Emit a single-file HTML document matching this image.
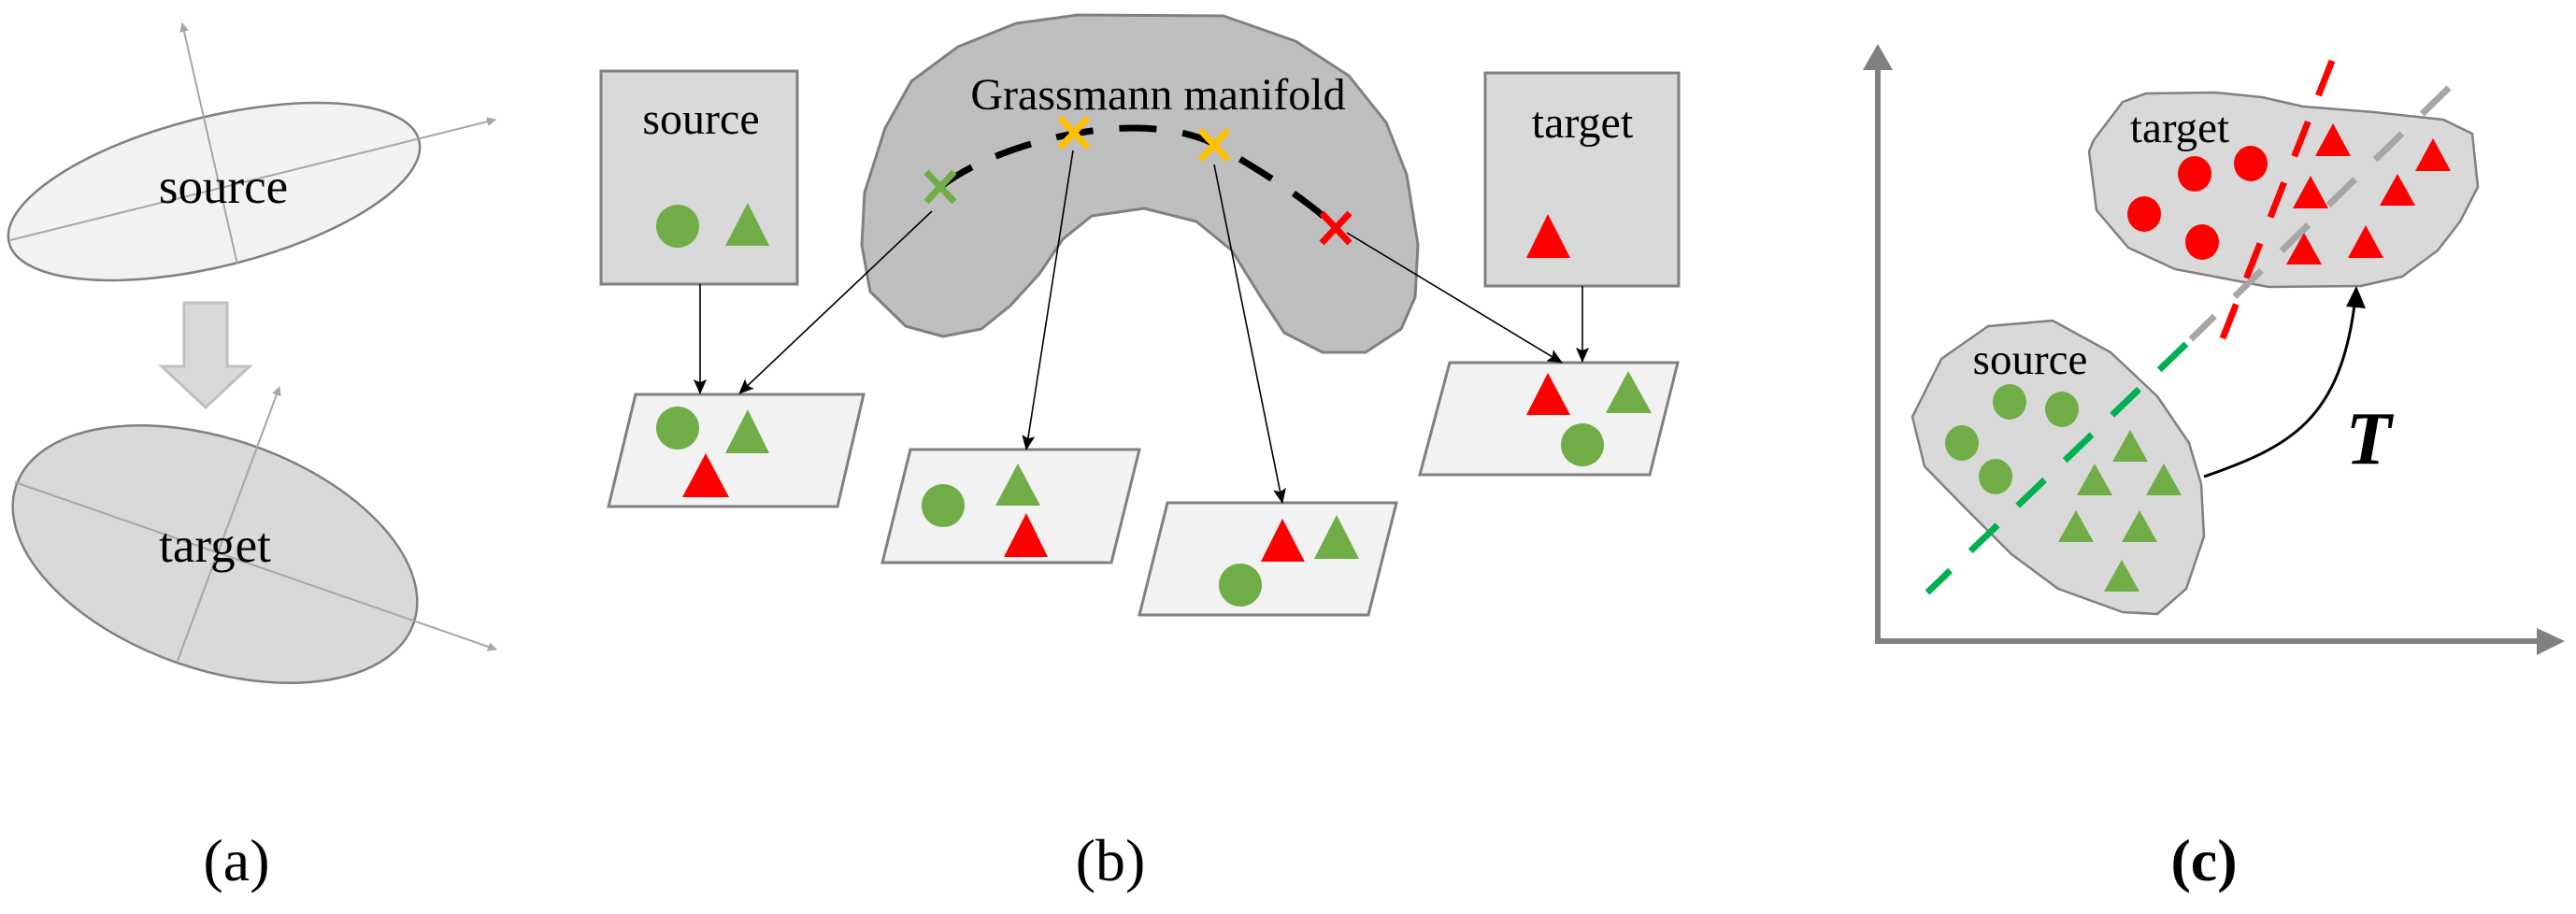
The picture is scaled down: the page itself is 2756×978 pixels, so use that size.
<!DOCTYPE html>
<html><head><meta charset="utf-8"><style>
html,body{margin:0;padding:0;background:#fff}
svg{display:block}
text{font-family:"Liberation Serif","DejaVu Serif","Times New Roman",serif}
</style></head><body>
<svg width="2756" height="978" viewBox="0 0 2756 978" xmlns="http://www.w3.org/2000/svg" font-family="Liberation Serif, DejaVu Serif, serif">
<defs>
<marker id="ag" markerWidth="10" markerHeight="10" refX="9" refY="5" orient="auto" markerUnits="userSpaceOnUse" viewBox="0 0 10 10"><path d="M0,0 L10,5 L0,10z" fill="#a6a6a6"/></marker>
<marker id="ab" markerWidth="16" markerHeight="14" refX="15" refY="7" orient="auto" markerUnits="userSpaceOnUse"><path d="M0,0 L16,7 L0,14 L3,7z" fill="#000"/></marker>
</defs>

<!-- (a) -->
<ellipse cx="229" cy="205" rx="226" ry="80" transform="rotate(-14 229 205)" fill="#f2f2f2" stroke="#808080" stroke-width="2.5"/>
<line x1="11" y1="257" x2="530" y2="128" stroke="#a6a6a6" stroke-width="2" marker-end="url(#ag)"/>
<line x1="254" y1="283" x2="195" y2="25" stroke="#a6a6a6" stroke-width="2" marker-end="url(#ag)"/>
<text x="239" y="217" font-size="53" text-anchor="middle" font-family="Liberation Serif, DejaVu Serif, serif">source</text>
<path d="M197,324 H243 V392 H267 L220,436 L173,392 H197Z" fill="#d9d9d9" stroke="#bfbfbf" stroke-width="3"/>
<ellipse cx="230" cy="593" rx="225" ry="123" transform="rotate(19.2 230 593)" fill="#d9d9d9" stroke="#808080" stroke-width="2.5"/>
<line x1="16" y1="516" x2="531" y2="695" stroke="#a6a6a6" stroke-width="2" marker-end="url(#ag)"/>
<line x1="190" y1="707" x2="299" y2="414" stroke="#a6a6a6" stroke-width="2" marker-end="url(#ag)"/>
<text x="230" y="601" font-size="53" text-anchor="middle" font-family="Liberation Serif, DejaVu Serif, serif">target</text>
<text x="253" y="942" font-size="64" text-anchor="middle" font-family="Liberation Serif, DejaVu Serif, serif">(a)</text>

<!-- (b) -->
<path d="M1153,16 L1309,17 L1386,44 L1443,81 L1483,131 L1505,187 L1517,262 L1514,318 L1499,352 L1461,377 L1415,377 L1374,356 L1349,318 L1318,268 L1280,237 L1224,223 L1168,231 L1137,256 L1112,293 L1081,327 L1050,352 L1009,360 L969,349 L931,312 L922,262 L925,206 L947,137 L975,87 L1025,50 L1087,25Z" fill="#bfbfbf" stroke="#808080" stroke-width="3" stroke-linejoin="round"/>
<text x="1239" y="117" font-size="48" text-anchor="middle" font-family="Liberation Serif, DejaVu Serif, serif">Grassmann manifold</text>
<path d="M1006,200 C1070,150 1230,110 1310,160 C1360,190 1400,215 1432,246" fill="none" stroke="#000" stroke-width="7" stroke-dasharray="40 28"/>
<g stroke-width="7">
<path d="M991,184 L1021,216 M1021,184 L991,216" stroke="#70ad47"/>
<path d="M1134,126 L1164,158 M1164,126 L1134,158" stroke="#ffc000"/>
<path d="M1284,139 L1314,171 M1314,139 L1284,171" stroke="#ffc000"/>
<path d="M1414,228 L1444,260 M1444,228 L1414,260" stroke="#ff0000"/>
</g>
<!-- boxes -->
<rect x="643" y="76" width="210" height="228" fill="#d9d9d9" stroke="#808080" stroke-width="3"/>
<text x="750" y="143" font-size="48" text-anchor="middle" font-family="Liberation Serif, DejaVu Serif, serif">source</text>
<circle cx="725" cy="242" r="23" fill="#70ad47"/>
<path d="M800,217 L823,263 L776,263Z" fill="#70ad47"/>
<rect x="1589" y="78" width="207" height="228" fill="#d9d9d9" stroke="#808080" stroke-width="3"/>
<text x="1693" y="147" font-size="48" text-anchor="middle" font-family="Liberation Serif, DejaVu Serif, serif">target</text>
<path d="M1656,229 L1680,276 L1633,276Z" fill="#f00"/>
<!-- parallelograms -->
<path d="M680,422 L924,422 L896,542 L651,542Z" fill="#f2f2f2" stroke="#808080" stroke-width="3"/>
<circle cx="725" cy="458" r="23" fill="#70ad47"/>
<path d="M800,438 L823,485 L776,485Z" fill="#70ad47"/>
<path d="M755,485 L780,532 L730,532Z" fill="#f00"/>
<path d="M974,481 L1219,481 L1189,602 L944,602Z" fill="#f2f2f2" stroke="#808080" stroke-width="3"/>
<circle cx="1009" cy="541" r="23" fill="#70ad47"/>
<path d="M1089,496 L1113,541 L1065,541Z" fill="#70ad47"/>
<path d="M1098,549 L1121,596 L1074,596Z" fill="#f00"/>
<path d="M1249,538 L1494,538 L1464,658 L1219,658Z" fill="#f2f2f2" stroke="#808080" stroke-width="3"/>
<path d="M1372,555 L1396,601 L1349,601Z" fill="#f00"/>
<path d="M1430,551 L1454,598 L1406,598Z" fill="#70ad47"/>
<circle cx="1327" cy="626" r="23" fill="#70ad47"/>
<path d="M1551,388 L1795,388 L1765,508 L1519,508Z" fill="#f2f2f2" stroke="#808080" stroke-width="3"/>
<path d="M1656,399 L1680,444 L1633,444Z" fill="#f00"/>
<path d="M1742,397 L1767,442 L1718,442Z" fill="#70ad47"/>
<circle cx="1693" cy="476" r="23" fill="#70ad47"/>
<!-- arrows -->
<g stroke="#000" stroke-width="1.6" fill="none" marker-end="url(#ab)">
<line x1="749" y1="304" x2="749" y2="421"/>
<line x1="997" y1="226" x2="791" y2="421"/>
<line x1="1148" y1="161" x2="1098" y2="481"/>
<line x1="1299" y1="176" x2="1372" y2="538"/>
<line x1="1441" y1="249" x2="1671" y2="388"/>
<line x1="1693" y1="306" x2="1693" y2="387"/>
</g>
<text x="1188" y="942" font-size="64" text-anchor="middle" font-family="Liberation Serif, DejaVu Serif, serif">(b)</text>

<!-- (c) -->
<line x1="2009" y1="689" x2="2009" y2="72" stroke="#808080" stroke-width="6"/>
<path d="M2009,47 L2025,75 L1993,75Z" fill="#808080"/>
<line x1="2006" y1="686" x2="2716" y2="686" stroke="#808080" stroke-width="6"/>
<path d="M2744,686 L2714,672 L2714,701Z" fill="#808080"/>
<path d="M2240,150 L2271,109 L2296,100 L2370,99 L2420,104 L2464,114 L2540,120 L2614,128 L2645,143 L2651,200 L2632,237 L2608,268 L2570,296 L2526,306 L2427,307 L2327,288 L2277,265 L2243,225 L2235,162Z" fill="#d9d9d9" stroke="#808080" stroke-width="2.5" stroke-linejoin="round"/>
<text x="2332" y="152" font-size="47" text-anchor="middle" font-family="Liberation Serif, DejaVu Serif, serif">target</text>
<g fill="#f00">
<ellipse cx="2348" cy="186" rx="18" ry="19"/><ellipse cx="2408" cy="175" rx="18" ry="19"/>
<ellipse cx="2294" cy="229" rx="18" ry="19"/><ellipse cx="2356" cy="259" rx="18" ry="19"/>
<path d="M2496,132 L2515,167 L2477,167Z"/><path d="M2603,148 L2622,183 L2584,183Z"/>
<path d="M2472,188 L2491,223 L2453,223Z"/><path d="M2565,186 L2584,220 L2546,220Z"/>
<path d="M2465,249 L2484,283 L2446,283Z"/><path d="M2531,241 L2550,276 L2512,276Z"/>
</g>
<path d="M2046,446 L2077,384 L2127,349 L2196,343 L2258,377 L2308,424 L2342,474 L2355,518 L2358,574 L2339,630 L2308,657 L2271,655 L2202,630 L2152,593 L2102,543 L2059,499Z" fill="#d9d9d9" stroke="#808080" stroke-width="2.5" stroke-linejoin="round"/>
<text x="2172" y="400" font-size="47" text-anchor="middle" font-family="Liberation Serif, DejaVu Serif, serif">source</text>
<g fill="#70ad47">
<ellipse cx="2150" cy="430" rx="18" ry="19"/><ellipse cx="2206" cy="438" rx="18" ry="19"/>
<ellipse cx="2099" cy="474" rx="18" ry="19"/><ellipse cx="2135" cy="510" rx="18" ry="19"/>
<path d="M2279,460 L2298,494 L2260,494Z"/><path d="M2241,496 L2260,530 L2222,530Z"/>
<path d="M2315,496 L2334,530 L2296,530Z"/><path d="M2221,546 L2240,580 L2202,580Z"/>
<path d="M2289,546 L2308,580 L2270,580Z"/><path d="M2270,599 L2289,633 L2251,633Z"/>
</g>
<line x1="2495" y1="65" x2="2378" y2="362" stroke="#f00" stroke-width="7" stroke-dasharray="40 30"/>
<line x1="2620" y1="94" x2="2344" y2="363" stroke="#a6a6a6" stroke-width="7" stroke-dasharray="40 30"/>
<line x1="2339" y1="368" x2="2062" y2="634" stroke="#00b050" stroke-width="7" stroke-dasharray="40 30"/>
<path d="M2358,510 C2450,478 2505,450 2520,318" fill="none" stroke="#000" stroke-width="3"/>
<path d="M2521,306 L2531,330 L2510,328Z" fill="#000"/>
<text x="2534" y="496" font-size="80" font-style="italic" font-weight="bold" text-anchor="middle" font-family="Liberation Serif, DejaVu Serif, serif">T</text>
<text x="2358" y="942" font-size="64" font-weight="bold" text-anchor="middle" font-family="Liberation Serif, DejaVu Serif, serif">(c)</text>
</svg>
</body></html>
